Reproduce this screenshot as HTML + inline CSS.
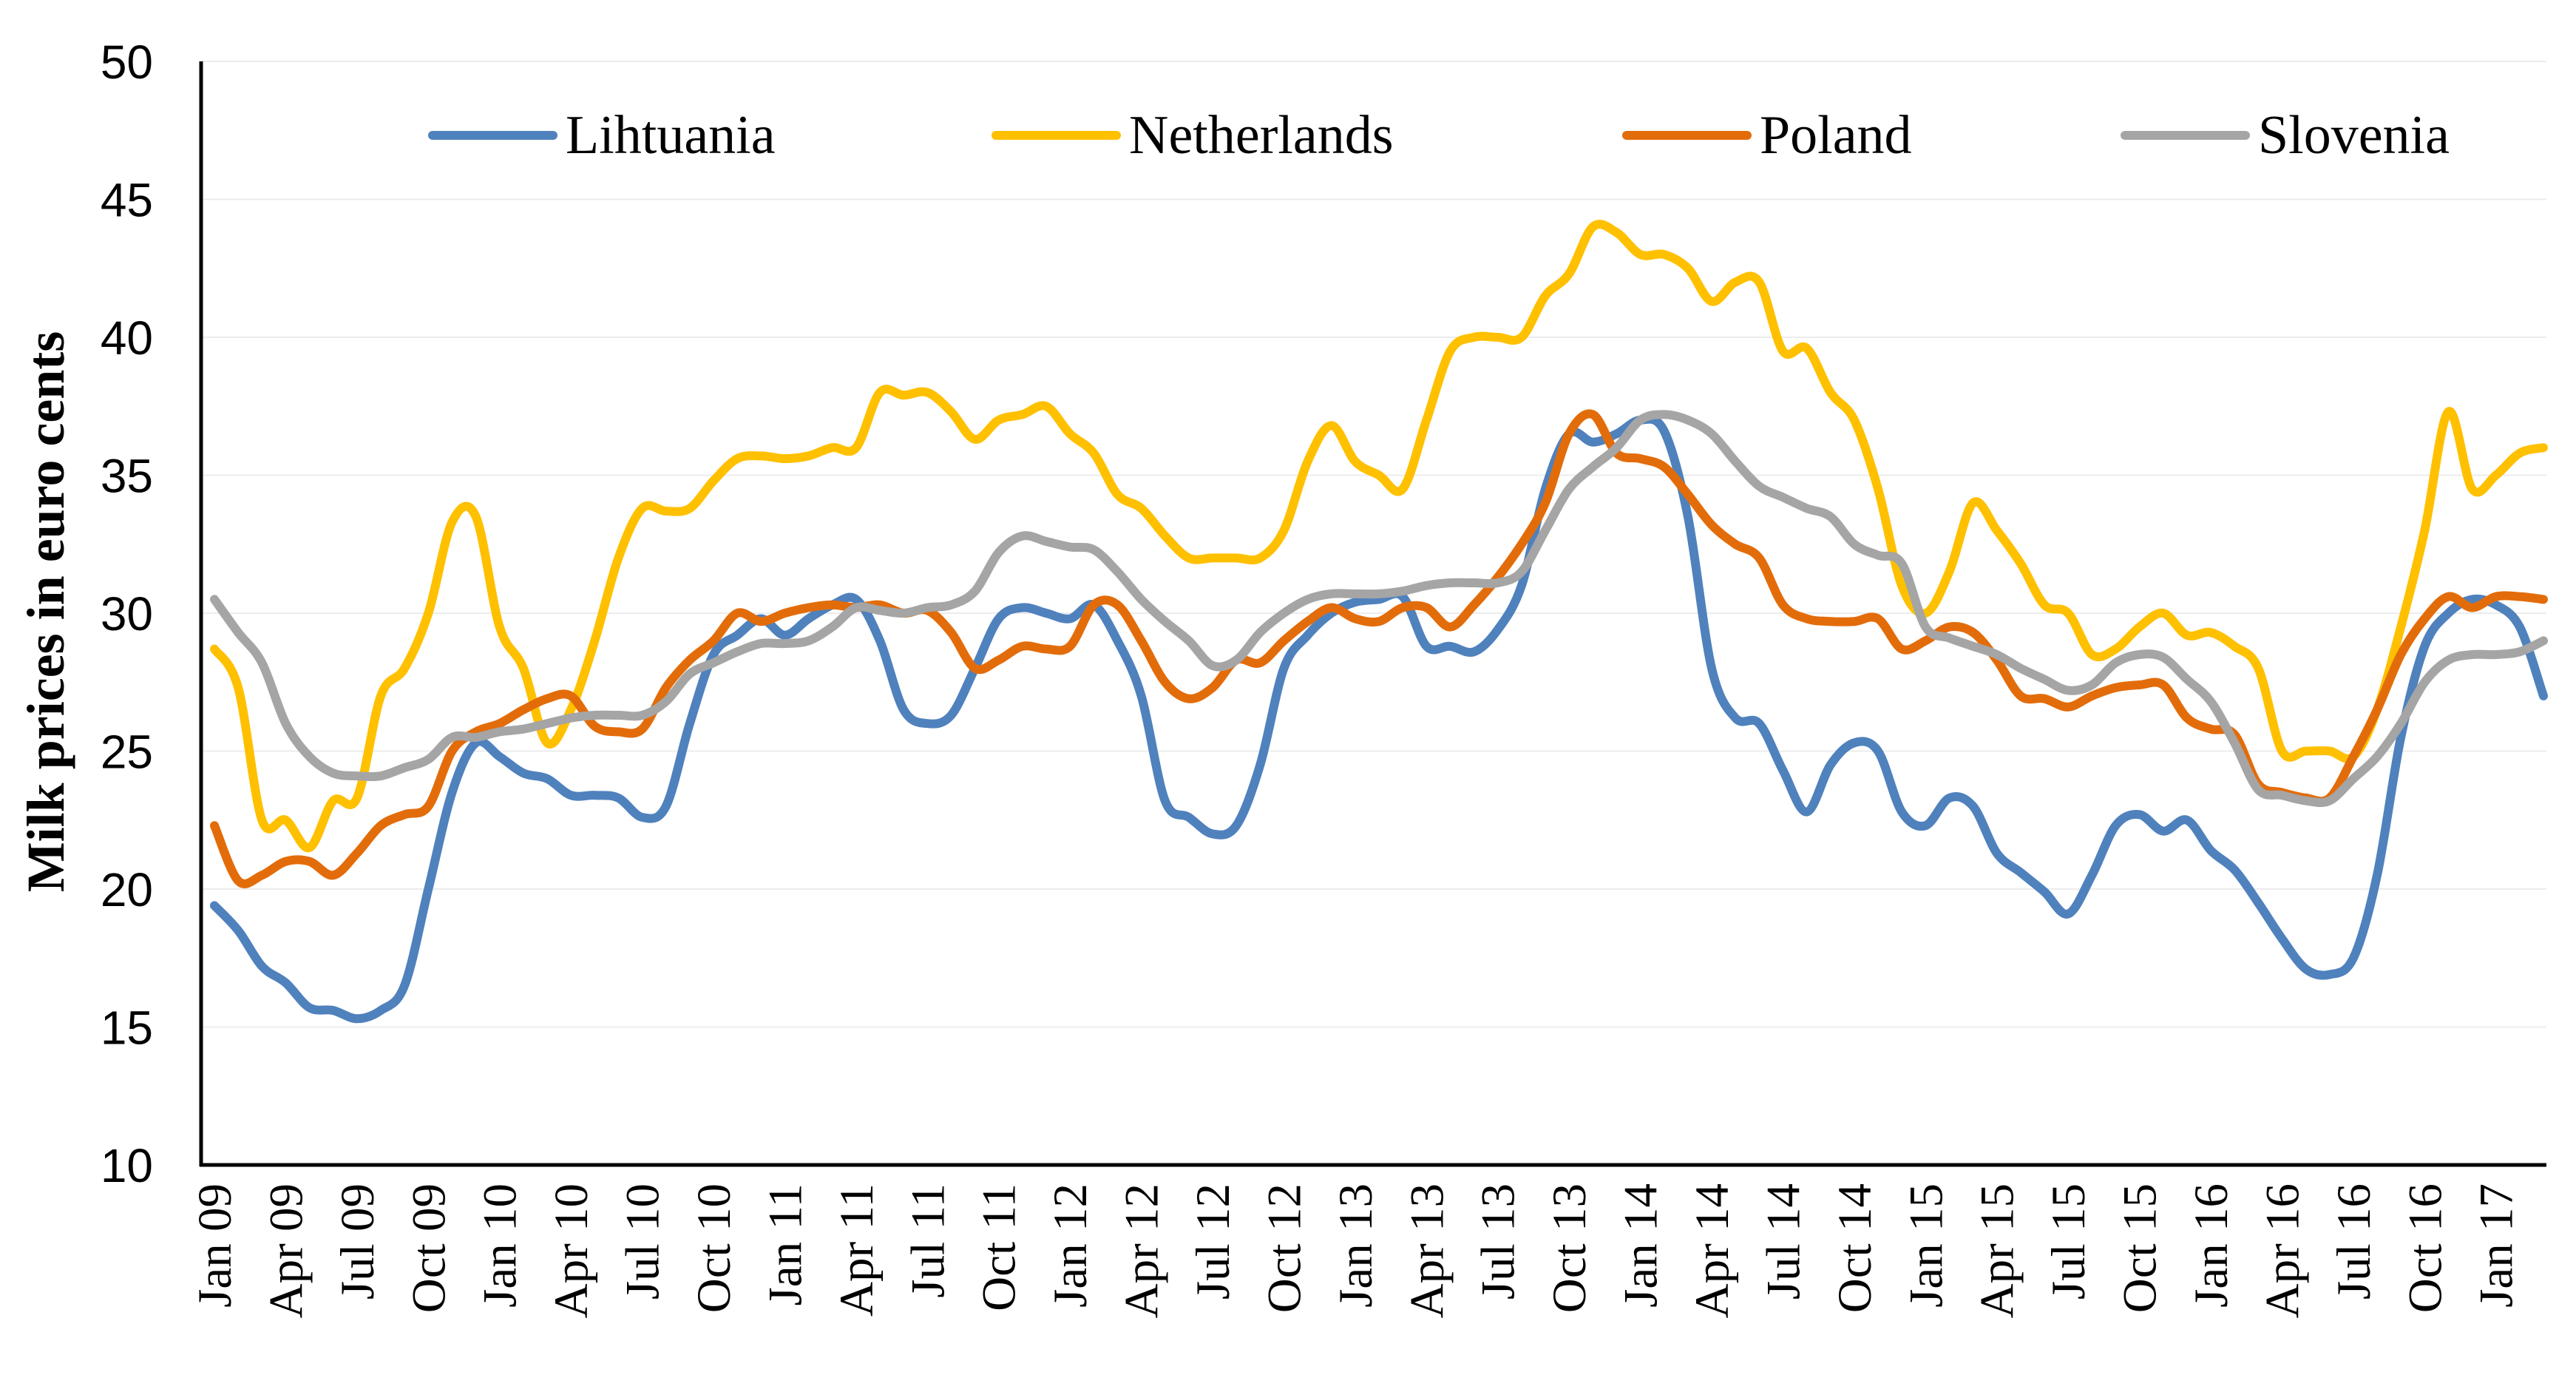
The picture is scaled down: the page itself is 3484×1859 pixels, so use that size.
<!DOCTYPE html>
<html><head><meta charset="utf-8"><style>
html,body{margin:0;padding:0;background:#fff;}
svg{display:block;}
</style></head><body>
<svg id="chart" width="3484" height="1859" viewBox="0 0 3484 1859" xmlns="http://www.w3.org/2000/svg">
<g id="grid"></g>
<g id="series"></g>
<g id="axes"></g>
<g id="legend"></g>
<text transform="translate(86,827) rotate(-90)" text-anchor="middle" font-family="Liberation Serif, serif" font-weight="bold" font-size="72">Milk prices in euro cents</text>
</svg>
<script>
const months = ["Jan","Feb","Mar","Apr","May","Jun","Jul","Aug","Sep","Oct","Nov","Dec"];
const startYear = 9;
const yTicks = [10,15,20,25,30,35,40,45,50];
const seriesNames = ["Lihtuania","Netherlands","Poland","Slovenia"];
const lithuania = [19.4,18.5,17.2,16.6,15.7,15.6,15.3,15.6,16.5,20,23.5,25.3,
24.8,24.2,24,23.4,23.4,23.3,22.6,23,26,28.5,29.2,29.8,
29.2,29.8,30.3,30.5,29,26.5,26,26.3,28,29.8,30.2,30,
29.8,30.3,29,27,23.2,22.6,22,22.3,24.5,28,29.2,30,
30.4,30.5,30.6,28.8,28.8,28.6,29.4,31,34.5,36.5,36.2,36.5,
37,36.6,33.5,28,26.2,26,24.3,22.8,24.5,25.3,25,22.8,
22.3,23.3,23,21.3,20.6,19.9,19.1,20.5,22.3,22.7,22.1,22.5,
21.4,20.7,19.5,18.2,17.1,16.9,17.5,20.5,25.5,28.8,30,30.5,
30.3,29.5,27];
const netherlands = [28.7,27.3,22.5,22.5,21.5,23.2,23.3,27,28,30,33.3,33.5,
29.5,28,25.3,26.5,29,32,33.8,33.7,33.8,34.8,35.6,35.7,
35.6,35.7,36,36,38,37.9,38,37.3,36.3,37,37.2,37.5,
36.5,35.8,34.3,33.8,32.8,32,32,32,32,33,35.5,36.8,
35.5,35,34.5,37,39.5,40,40,40,41.5,42.3,44,43.8,
43,43,42.5,41.3,42,42,39.5,39.6,38,37,34.5,31,
30,31.5,34,33,31.8,30.3,30,28.5,28.7,29.5,30,29.2,
29.3,28.8,28,25,25,25,24.8,26.5,29.5,33,37.3,34.5,
35,35.8,36];
const poland = [22.3,20.3,20.5,21,21,20.5,21.3,22.3,22.7,23,25,25.7,
26,26.5,26.9,27,25.9,25.7,25.8,27.3,28.3,29,30,29.7,
30,30.2,30.3,30.2,30.3,30,30.1,29.3,28,28.3,28.8,28.7,
28.8,30.3,30.3,29,27.5,26.9,27.3,28.3,28.2,29,29.7,30.2,
29.8,29.7,30.2,30.2,29.5,30.3,31.3,32.5,34,36.5,37.2,35.8,
35.6,35.3,34.3,33.2,32.5,32,30.3,29.8,29.7,29.7,29.8,28.7,
29,29.5,29.3,28.3,27,26.9,26.6,27,27.3,27.4,27.4,26.2,
25.8,25.6,23.8,23.5,23.3,23.3,24.8,26.5,28.5,29.8,30.6,30.2,
30.6,30.6,30.5];
const slovenia = [30.5,29.3,28.2,26,24.8,24.2,24.1,24.1,24.4,24.7,25.5,25.5,
25.7,25.8,26,26.2,26.3,26.3,26.3,26.8,27.8,28.2,28.6,28.9,
28.9,29,29.5,30.2,30.1,30,30.2,30.3,30.8,32.2,32.8,32.6,
32.4,32.3,31.5,30.5,29.7,29,28.1,28.3,29.3,30,30.5,30.7,
30.7,30.7,30.8,31,31.1,31.1,31.1,31.5,33,34.5,35.3,36,
37,37.2,37,36.5,35.5,34.6,34.2,33.8,33.5,32.5,32.1,31.8,
29.5,29.1,28.8,28.5,28,27.6,27.2,27.4,28.2,28.5,28.4,27.6,
26.8,25.3,23.6,23.4,23.2,23.2,24,24.8,26,27.5,28.3,28.5,
28.5,28.6,29];

const NS="http://www.w3.org/2000/svg";
const X0=290, X1=3440, AXL=272, AXR=3444, Y10=1575, Y50=83;
const n = lithuania.length;
function xs(i){return X0 + i*(X1-X0)/(n-1);}
function ys(v){return Y10 - (v-10)*(Y10-Y50)/40;}
function mk(tag,attrs,parent){const e=document.createElementNS(NS,tag);for(const k in attrs)e.setAttribute(k,attrs[k]);parent.appendChild(e);return e;}
const grid=document.getElementById('grid'), axes=document.getElementById('axes'), ser=document.getElementById('series'), leg=document.getElementById('legend');

yTicks.forEach(t=>{
  if(t>10){const g=mk('line',{x1:AXL,x2:AXR,y1:ys(t),y2:ys(t),stroke:'#ececec','stroke-width':2},grid);
  
  }
  const tx=mk('text',{x:207,y:ys(t)+23,'text-anchor':'end','font-family':'Liberation Sans, sans-serif','font-size':64},axes);
  tx.textContent=t;
  
  
});
const ya=mk('line',{x1:AXL,x2:AXL,y1:Y50,y2:Y10+2,stroke:'#000','stroke-width':5},axes);


const xa=mk('line',{x1:AXL-2,x2:AXR,y1:Y10,y2:Y10,stroke:'#000','stroke-width':5},axes);



for(let i=0;i<n;i+=3){
  const lab=months[i%12]+" "+String(startYear+Math.floor(i/12)).padStart(2,'0');
  const x=xs(i)+22;
  const tx=mk('text',{transform:`translate(${x},1600) rotate(-90)`,'text-anchor':'end','font-family':'Liberation Serif, serif','font-size':65},axes);
  tx.textContent=lab;
  
  
}

function smoothPath(vals){
  const p=vals.map((v,i)=>[xs(i),ys(v)]);
  let d=`M${p[0][0]},${p[0][1]}`;
  for(let i=0;i<p.length-1;i++){
    const p0=p[Math.max(i-1,0)],p1=p[i],p2=p[i+1],p3=p[Math.min(i+2,p.length-1)];
    const c1=[p1[0]+(p2[0]-p0[0])/6,p1[1]+(p2[1]-p0[1])/6];
    const c2=[p2[0]-(p3[0]-p1[0])/6,p2[1]-(p3[1]-p1[1])/6];
    d+=`C${c1[0].toFixed(1)},${c1[1].toFixed(1)} ${c2[0].toFixed(1)},${c2[1].toFixed(1)} ${p2[0].toFixed(1)},${p2[1].toFixed(1)}`;
  }
  return d;
}
const allSeries=[lithuania,netherlands,poland,slovenia];
const colors=['#4F81BD','#FFC000','#E36C0A','#A5A5A5'];
const order=[1,0,2,3];
order.forEach(k=>{
  const pth=mk('path',{d:smoothPath(allSeries[k]),fill:'none',stroke:colors[k],'stroke-width':12,'stroke-linejoin':'round','stroke-linecap':'round'},ser);
  
  
});

const legX=[585,1347,2200,2874];
seriesNames.forEach((nm,k)=>{
  const g=mk('g',{},leg);
  
  
  mk('line',{x1:legX[k],x2:legX[k]+163,y1:183,y2:183,stroke:colors[k],'stroke-width':12,'stroke-linecap':'round'},g);
  const t=mk('text',{x:legX[k]+180,y:207,'font-family':'Liberation Serif, serif','font-size':74},g);
  t.textContent=nm;
});
</script>
</body></html>
